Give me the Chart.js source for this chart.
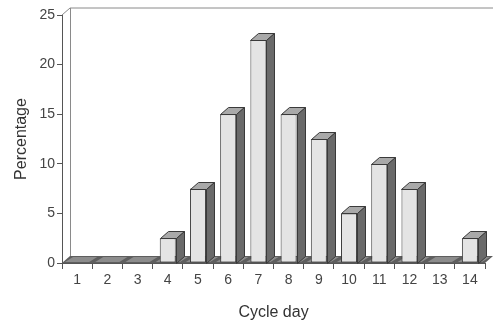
<!DOCTYPE html>
<html>
<head>
<meta charset="utf-8">
<script src="https://cdn.jsdelivr.net/npm/chart.js@4/dist/chart.umd.min.js"></script>
<style>
  html, body { margin: 0; padding: 0; background: #fff; }
  #wrap { width: 494px; height: 325px; }
</style>
</head>
<body>
<div id="wrap"><canvas id="chart" width="494" height="325"></canvas></div>
<script>
const cycleDays = ['1', '2', '3', '4', '5', '6', '7', '8', '9', '10', '11', '12', '13', '14'];
const percentages = [0, 0, 0, 2.5, 7.5, 15, 22.5, 15, 12.5, 5, 10, 7.5, 0, 2.5];
const yTicks = [0, 5, 10, 15, 20, 25];

// profondeur de l'effet 3D
const DX = 8, DY = -7;

const box3d = {
    id: 'box3d',
    beforeDatasetsDraw(chart) {
        const ctx = chart.ctx;
        const a = chart.chartArea;
        const y = chart.scales.y;
        const x = chart.scales.x;
        const base = y.getPixelForValue(0);
        ctx.save();
        ctx.lineWidth = 1;
        ctx.strokeStyle = '#8a8a8a';
        // mur du fond
        ctx.beginPath();
        ctx.moveTo(a.left, a.top);
        ctx.lineTo(a.left + DX, a.top + DY);
        ctx.lineTo(a.right + DX, a.top + DY);
        ctx.moveTo(a.left + DX + 0.5, a.top + DY);
        ctx.lineTo(a.left + DX + 0.5, base + DY);
        ctx.stroke();
        // sol
        ctx.fillStyle = '#5e5e5e';
        ctx.beginPath();
        ctx.moveTo(a.left, base);
        ctx.lineTo(a.left + DX, base + DY);
        ctx.lineTo(a.right + DX, base + DY);
        ctx.lineTo(a.right, base);
        ctx.closePath();
        ctx.fill();
        // cases du sol
        const n = cycleDays.length;
        const w = (a.right - a.left) / n;
        ctx.fillStyle = '#8c8c8c';
        for (let i = 0; i < n; i++) {
            const l = a.left + i * w + 3;
            const r = a.left + (i + 1) * w - 3;
            ctx.beginPath();
            ctx.moveTo(l, base - 1);
            ctx.lineTo(l + DX, base + DY + 1);
            ctx.lineTo(r + DX, base + DY + 1);
            ctx.lineTo(r, base - 1);
            ctx.closePath();
            ctx.fill();
        }
        ctx.restore();
    },
    afterDatasetsDraw(chart) {
        const ctx = chart.ctx;
        const meta = chart.getDatasetMeta(0);
        ctx.save();
        ctx.lineWidth = 1;
        ctx.strokeStyle = '#3a3a3a';
        meta.data.forEach((bar, i) => {
            if (percentages[i] <= 0) return;
            const p = bar.getProps(['x', 'y', 'base', 'width'], true);
            const l = Math.round(p.x - p.width / 2) + 0.5;
            const r = Math.round(p.x + p.width / 2) + 0.5;
            const t = Math.round(p.y) + 0.5;
            const b = Math.round(p.base) + 0.5;
            // face du dessus
            ctx.fillStyle = '#a9a9a9';
            ctx.beginPath();
            ctx.moveTo(l, t);
            ctx.lineTo(l + DX, t + DY);
            ctx.lineTo(r + DX, t + DY);
            ctx.lineTo(r, t);
            ctx.closePath();
            ctx.fill();
            ctx.stroke();
            // face de côté
            ctx.fillStyle = '#6a6a6a';
            ctx.beginPath();
            ctx.moveTo(r, t);
            ctx.lineTo(r + DX, t + DY);
            ctx.lineTo(r + DX, b + DY);
            ctx.lineTo(r, b);
            ctx.closePath();
            ctx.fill();
            ctx.stroke();
        });
        ctx.restore();
    }
};

new Chart(document.getElementById('chart'), {
    type: 'bar',
    data: {
        labels: cycleDays,
        datasets: [{
            data: percentages,
            backgroundColor: '#e4e4e4',
            borderColor: '#3a3a3a',
            borderWidth: 1,
            borderSkipped: false,
            categoryPercentage: 1,
            barPercentage: 0.53
        }]
    },
    options: {
        responsive: false,
        animation: false,
        layout: { padding: { top: 15, right: 9, left: 0, bottom: 0 } },
        plugins: {
            legend: { display: false },
            tooltip: { enabled: false }
        },
        scales: {
            x: {
                afterFit: s => { s.height = 62; },
                grid: { drawOnChartArea: false, offset: true, tickLength: 6, color: '#555' },
                border: { color: '#555' },
                ticks: { color: '#444', font: { family: 'Liberation Sans', size: 14 }, padding: 3 },
                title: {
                    display: true, text: 'Cycle day', color: '#333',
                    font: { family: 'Liberation Sans', size: 16 },
                    padding: { top: 0, bottom: 3 }
                }
            },
            y: {
                min: 0,
                max: 25,
                afterFit: s => { s.width = 62; },
                afterBuildTicks: s => { s.ticks = yTicks.map(v => ({ value: v })); },
                grid: { drawOnChartArea: false, tickLength: 5, color: '#555' },
                border: { color: '#555' },
                ticks: { color: '#444', font: { family: 'Liberation Sans', size: 14 }, padding: 2 },
                title: {
                    display: true, text: 'Percentage', color: '#333',
                    font: { family: 'Liberation Sans', size: 16 },
                    padding: { top: 12, bottom: 0 }
                }
            }
        }
    },
    plugins: [box3d]
});
</script>
</body>
</html>
